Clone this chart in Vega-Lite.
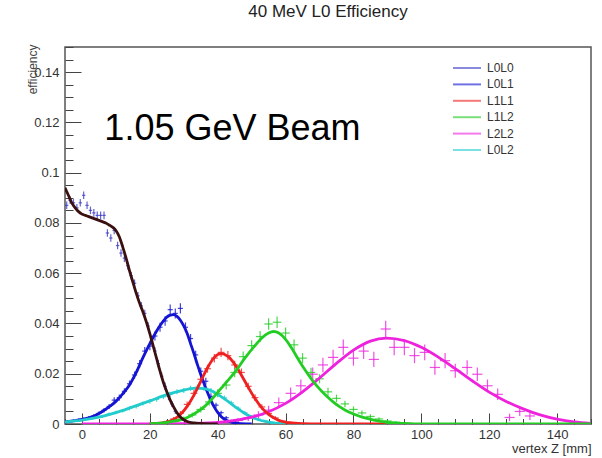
{
  "$schema": "https://vega.github.io/schema/vega-lite/v6.json",
  "width": 526,
  "height": 377,
  "autosize": "none",
  "padding": {"left": 65, "top": 47, "right": 11, "bottom": 34},
  "background": "white",
  "config": {
    "view": {"stroke": "#555555", "strokeWidth": 1.5},
    "font": "Liberation Sans",
    "legend": {
      "title": null,
      "orient": "none",
      "legendX": 387,
      "legendY": 13,
      "padding": 0,
      "labelFont": "Liberation Sans",
      "labelFontSize": 12,
      "labelColor": "#333333",
      "labelOffset": 5,
      "symbolType": "stroke",
      "symbolSize": 784,
      "symbolStrokeWidth": 2,
      "symbolOpacity": 0.6,
      "clipHeight": 16,
      "rowPadding": 0.4
    }
  },
  "title": {"text": "40 MeV L0 Efficiency", "fontSize": 17, "fontWeight": "normal", "font": "Liberation Sans", "color": "#222222", "offset": 20, "anchor": "middle"},
  "datasets": {
    "note": [
      {"note": "1.05 GeV Beam", "z": 6.6, "e": 0.113}
    ],
    "pts": [
      {"s": "L0L0", "z": -4.5, "e": 0.087, "dz": 0.5, "de": 0.0015},
      {"s": "L0L0", "z": -3.5, "e": 0.089, "dz": 0.5, "de": 0.0015},
      {"s": "L0L0", "z": -2.5, "e": 0.088, "dz": 0.5, "de": 0.0015},
      {"s": "L0L0", "z": -1.5, "e": 0.086, "dz": 0.5, "de": 0.0015},
      {"s": "L0L0", "z": -0.5, "e": 0.088, "dz": 0.5, "de": 0.0015},
      {"s": "L0L0", "z": 0.5, "e": 0.091, "dz": 0.5, "de": 0.0015},
      {"s": "L0L0", "z": 1.5, "e": 0.087, "dz": 0.5, "de": 0.0015},
      {"s": "L0L0", "z": 2.5, "e": 0.085, "dz": 0.5, "de": 0.0015},
      {"s": "L0L0", "z": 3.5, "e": 0.084, "dz": 0.5, "de": 0.0015},
      {"s": "L0L0", "z": 4.5, "e": 0.083, "dz": 0.5, "de": 0.0015},
      {"s": "L0L0", "z": 5.5, "e": 0.083, "dz": 0.5, "de": 0.0015},
      {"s": "L0L0", "z": 6.5, "e": 0.083, "dz": 0.5, "de": 0.0015},
      {"s": "L0L0", "z": 7.5, "e": 0.076, "dz": 0.5, "de": 0.0015},
      {"s": "L0L0", "z": 8.5, "e": 0.074, "dz": 0.5, "de": 0.0015},
      {"s": "L0L0", "z": 9.5, "e": 0.077, "dz": 0.5, "de": 0.0015},
      {"s": "L0L0", "z": 10.5, "e": 0.071, "dz": 0.5, "de": 0.0015},
      {"s": "L0L0", "z": 11.5, "e": 0.068, "dz": 0.5, "de": 0.0015},
      {"s": "L0L0", "z": 12.5, "e": 0.066, "dz": 0.5, "de": 0.0015},
      {"s": "L0L0", "z": 13.5, "e": 0.063, "dz": 0.5, "de": 0.0015},
      {"s": "L0L0", "z": 14.5, "e": 0.059, "dz": 0.5, "de": 0.0015},
      {"s": "L0L0", "z": 15.5, "e": 0.056, "dz": 0.5, "de": 0.0015},
      {"s": "L0L0", "z": 16.5, "e": 0.051, "dz": 0.5, "de": 0.0015},
      {"s": "L0L0", "z": 17.5, "e": 0.047, "dz": 0.5, "de": 0.0015},
      {"s": "L0L0", "z": 18.5, "e": 0.044, "dz": 0.5, "de": 0.0015},
      {"s": "L0L0", "z": 19.5, "e": 0.039, "dz": 0.5, "de": 0.0015},
      {"s": "L0L0", "z": 20.5, "e": 0.033, "dz": 0.5, "de": 0.0015},
      {"s": "L0L0", "z": 21.5, "e": 0.029, "dz": 0.5, "de": 0.0015},
      {"s": "L0L0", "z": 22.5, "e": 0.024, "dz": 0.5, "de": 0.0015},
      {"s": "L0L0", "z": 23.5, "e": 0.019, "dz": 0.5, "de": 0.0015},
      {"s": "L0L0", "z": 24.5, "e": 0.015, "dz": 0.5, "de": 0.0015},
      {"s": "L0L0", "z": 25.5, "e": 0.011, "dz": 0.5, "de": 0.0015},
      {"s": "L0L0", "z": 26.5, "e": 0.008, "dz": 0.5, "de": 0.0012},
      {"s": "L0L0", "z": 27.5, "e": 0.005, "dz": 0.5, "de": 0.0010},
      {"s": "L0L0", "z": 28.5, "e": 0.003, "dz": 0.5, "de": 0.0008},
      {"s": "L0L0", "z": 29.5, "e": 0.002, "dz": 0.5, "de": 0.0006},

      {"s": "L0L1", "z": -4, "e": 0.0010, "dz": 0.75, "de": 0.0005},
      {"s": "L0L1", "z": -2.5, "e": 0.0013, "dz": 0.75, "de": 0.0005},
      {"s": "L0L1", "z": -1, "e": 0.0016, "dz": 0.75, "de": 0.0006},
      {"s": "L0L1", "z": 0.5, "e": 0.0020, "dz": 0.75, "de": 0.0006},
      {"s": "L0L1", "z": 2, "e": 0.0025, "dz": 0.75, "de": 0.0007},
      {"s": "L0L1", "z": 3.5, "e": 0.0032, "dz": 0.75, "de": 0.0007},
      {"s": "L0L1", "z": 5, "e": 0.0042, "dz": 0.75, "de": 0.0008},
      {"s": "L0L1", "z": 6.5, "e": 0.0055, "dz": 0.75, "de": 0.0009},
      {"s": "L0L1", "z": 8, "e": 0.0070, "dz": 0.75, "de": 0.0010},
      {"s": "L0L1", "z": 9.5, "e": 0.0095, "dz": 0.75, "de": 0.0011},
      {"s": "L0L1", "z": 11, "e": 0.0105, "dz": 0.75, "de": 0.0012},
      {"s": "L0L1", "z": 12.5, "e": 0.0130, "dz": 0.75, "de": 0.0012},
      {"s": "L0L1", "z": 14, "e": 0.0160, "dz": 0.75, "de": 0.0013},
      {"s": "L0L1", "z": 15.5, "e": 0.0195, "dz": 0.75, "de": 0.0014},
      {"s": "L0L1", "z": 17, "e": 0.0240, "dz": 0.75, "de": 0.0015},
      {"s": "L0L1", "z": 18.5, "e": 0.0290, "dz": 0.75, "de": 0.0016},
      {"s": "L0L1", "z": 20, "e": 0.0310, "dz": 0.75, "de": 0.0017},
      {"s": "L0L1", "z": 21.5, "e": 0.0350, "dz": 0.75, "de": 0.0018},
      {"s": "L0L1", "z": 23, "e": 0.0385, "dz": 0.75, "de": 0.0018},
      {"s": "L0L1", "z": 24.5, "e": 0.0410, "dz": 0.75, "de": 0.0019},
      {"s": "L0L1", "z": 26, "e": 0.0455, "dz": 0.75, "de": 0.0020},
      {"s": "L0L1", "z": 27.5, "e": 0.0440, "dz": 0.75, "de": 0.0020},
      {"s": "L0L1", "z": 29, "e": 0.0460, "dz": 0.75, "de": 0.0020},
      {"s": "L0L1", "z": 30.5, "e": 0.0385, "dz": 0.75, "de": 0.0019},
      {"s": "L0L1", "z": 32, "e": 0.0340, "dz": 0.75, "de": 0.0018},
      {"s": "L0L1", "z": 33.5, "e": 0.0275, "dz": 0.75, "de": 0.0016},
      {"s": "L0L1", "z": 35, "e": 0.0210, "dz": 0.75, "de": 0.0015},
      {"s": "L0L1", "z": 36.5, "e": 0.0170, "dz": 0.75, "de": 0.0014},
      {"s": "L0L1", "z": 38, "e": 0.0110, "dz": 0.75, "de": 0.0012},
      {"s": "L0L1", "z": 39.5, "e": 0.0075, "dz": 0.75, "de": 0.0010},
      {"s": "L0L1", "z": 41, "e": 0.0045, "dz": 0.75, "de": 0.0008},
      {"s": "L0L1", "z": 42.5, "e": 0.0025, "dz": 0.75, "de": 0.0007},
      {"s": "L0L1", "z": 44, "e": 0.0012, "dz": 0.75, "de": 0.0005},
      {"s": "L0L1", "z": 45.5, "e": 0.0006, "dz": 0.75, "de": 0.0004},

      {"s": "L1L1", "z": 25, "e": 0.0010, "dz": 1, "de": 0.0006},
      {"s": "L1L1", "z": 27, "e": 0.0020, "dz": 1, "de": 0.0008},
      {"s": "L1L1", "z": 29, "e": 0.0042, "dz": 1, "de": 0.0010},
      {"s": "L1L1", "z": 31, "e": 0.0078, "dz": 1, "de": 0.0012},
      {"s": "L1L1", "z": 33, "e": 0.0122, "dz": 1, "de": 0.0013},
      {"s": "L1L1", "z": 35, "e": 0.0178, "dz": 1, "de": 0.0015},
      {"s": "L1L1", "z": 37, "e": 0.0220, "dz": 1, "de": 0.0016},
      {"s": "L1L1", "z": 39, "e": 0.0262, "dz": 1, "de": 0.0017},
      {"s": "L1L1", "z": 41, "e": 0.0285, "dz": 1, "de": 0.0018},
      {"s": "L1L1", "z": 43, "e": 0.0272, "dz": 1, "de": 0.0018},
      {"s": "L1L1", "z": 45, "e": 0.0235, "dz": 1, "de": 0.0017},
      {"s": "L1L1", "z": 47, "e": 0.0205, "dz": 1, "de": 0.0016},
      {"s": "L1L1", "z": 49, "e": 0.0150, "dz": 1, "de": 0.0014},
      {"s": "L1L1", "z": 51, "e": 0.0105, "dz": 1, "de": 0.0013},
      {"s": "L1L1", "z": 53, "e": 0.0068, "dz": 1, "de": 0.0011},
      {"s": "L1L1", "z": 55, "e": 0.0042, "dz": 1, "de": 0.0009},
      {"s": "L1L1", "z": 57, "e": 0.0024, "dz": 1, "de": 0.0007},
      {"s": "L1L1", "z": 59, "e": 0.0012, "dz": 1, "de": 0.0005},
      {"s": "L1L1", "z": 61, "e": 0.0006, "dz": 1, "de": 0.0004},

      {"s": "L0L2", "z": -3, "e": 0.0010, "dz": 0.75, "de": 0.0004},
      {"s": "L0L2", "z": 0, "e": 0.0015, "dz": 0.75, "de": 0.0004},
      {"s": "L0L2", "z": 3, "e": 0.0022, "dz": 0.75, "de": 0.0005},
      {"s": "L0L2", "z": 6, "e": 0.0030, "dz": 0.75, "de": 0.0006},
      {"s": "L0L2", "z": 8, "e": 0.0040, "dz": 0.75, "de": 0.0006},
      {"s": "L0L2", "z": 10, "e": 0.0046, "dz": 0.75, "de": 0.0007},
      {"s": "L0L2", "z": 12, "e": 0.0053, "dz": 0.75, "de": 0.0007},
      {"s": "L0L2", "z": 14, "e": 0.0062, "dz": 0.75, "de": 0.0008},
      {"s": "L0L2", "z": 16, "e": 0.0070, "dz": 0.75, "de": 0.0008},
      {"s": "L0L2", "z": 18, "e": 0.0082, "dz": 0.75, "de": 0.0008},
      {"s": "L0L2", "z": 20, "e": 0.0090, "dz": 0.75, "de": 0.0009},
      {"s": "L0L2", "z": 22, "e": 0.0098, "dz": 0.75, "de": 0.0009},
      {"s": "L0L2", "z": 24, "e": 0.0108, "dz": 0.75, "de": 0.0009},
      {"s": "L0L2", "z": 26, "e": 0.0118, "dz": 0.75, "de": 0.0010},
      {"s": "L0L2", "z": 28, "e": 0.0128, "dz": 0.75, "de": 0.0010},
      {"s": "L0L2", "z": 30, "e": 0.0133, "dz": 0.75, "de": 0.0010},
      {"s": "L0L2", "z": 32, "e": 0.0142, "dz": 0.75, "de": 0.0010},
      {"s": "L0L2", "z": 34, "e": 0.0147, "dz": 0.75, "de": 0.0010},
      {"s": "L0L2", "z": 36, "e": 0.0142, "dz": 0.75, "de": 0.0010},
      {"s": "L0L2", "z": 38, "e": 0.0133, "dz": 0.75, "de": 0.0010},
      {"s": "L0L2", "z": 40, "e": 0.0120, "dz": 0.75, "de": 0.0010},
      {"s": "L0L2", "z": 42, "e": 0.0104, "dz": 0.75, "de": 0.0009},
      {"s": "L0L2", "z": 44, "e": 0.0084, "dz": 0.75, "de": 0.0009},
      {"s": "L0L2", "z": 46, "e": 0.0063, "dz": 0.75, "de": 0.0008},
      {"s": "L0L2", "z": 48, "e": 0.0045, "dz": 0.75, "de": 0.0007},
      {"s": "L0L2", "z": 50, "e": 0.0030, "dz": 0.75, "de": 0.0006},
      {"s": "L0L2", "z": 52, "e": 0.0019, "dz": 0.75, "de": 0.0005},
      {"s": "L0L2", "z": 54, "e": 0.0011, "dz": 0.75, "de": 0.0004},
      {"s": "L0L2", "z": 56, "e": 0.0006, "dz": 0.75, "de": 0.0003},

      {"s": "L1L2", "z": 25, "e": 0.0008, "dz": 1.25, "de": 0.0005},
      {"s": "L1L2", "z": 27.5, "e": 0.0013, "dz": 1.25, "de": 0.0006},
      {"s": "L1L2", "z": 30, "e": 0.0022, "dz": 1.25, "de": 0.0008},
      {"s": "L1L2", "z": 32.5, "e": 0.0036, "dz": 1.25, "de": 0.0010},
      {"s": "L1L2", "z": 35, "e": 0.0058, "dz": 1.25, "de": 0.0012},
      {"s": "L1L2", "z": 37.5, "e": 0.0088, "dz": 1.25, "de": 0.0014},
      {"s": "L1L2", "z": 40, "e": 0.0122, "dz": 1.25, "de": 0.0016},
      {"s": "L1L2", "z": 42.5, "e": 0.0155, "dz": 1.25, "de": 0.0018},
      {"s": "L1L2", "z": 45, "e": 0.0205, "dz": 1.25, "de": 0.0019},
      {"s": "L1L2", "z": 47.5, "e": 0.0268, "dz": 1.25, "de": 0.0020},
      {"s": "L1L2", "z": 50, "e": 0.0312, "dz": 1.25, "de": 0.0021},
      {"s": "L1L2", "z": 52.5, "e": 0.0348, "dz": 1.25, "de": 0.0022},
      {"s": "L1L2", "z": 55, "e": 0.0398, "dz": 1.25, "de": 0.0023},
      {"s": "L1L2", "z": 57.5, "e": 0.0405, "dz": 1.25, "de": 0.0023},
      {"s": "L1L2", "z": 60, "e": 0.0362, "dz": 1.25, "de": 0.0022},
      {"s": "L1L2", "z": 62.5, "e": 0.0315, "dz": 1.25, "de": 0.0021},
      {"s": "L1L2", "z": 65, "e": 0.0262, "dz": 1.25, "de": 0.0020},
      {"s": "L1L2", "z": 67.5, "e": 0.0205, "dz": 1.25, "de": 0.0019},
      {"s": "L1L2", "z": 70, "e": 0.0180, "dz": 1.25, "de": 0.0018},
      {"s": "L1L2", "z": 72.5, "e": 0.0128, "dz": 1.25, "de": 0.0016},
      {"s": "L1L2", "z": 75, "e": 0.0102, "dz": 1.25, "de": 0.0015},
      {"s": "L1L2", "z": 77.5, "e": 0.0080, "dz": 1.25, "de": 0.0013},
      {"s": "L1L2", "z": 80, "e": 0.0058, "dz": 1.25, "de": 0.0012},
      {"s": "L1L2", "z": 82.5, "e": 0.0044, "dz": 1.25, "de": 0.0010},
      {"s": "L1L2", "z": 85, "e": 0.0030, "dz": 1.25, "de": 0.0009},
      {"s": "L1L2", "z": 87.5, "e": 0.0020, "dz": 1.25, "de": 0.0007},
      {"s": "L1L2", "z": 90, "e": 0.0012, "dz": 1.25, "de": 0.0006},
      {"s": "L1L2", "z": 92.5, "e": 0.0007, "dz": 1.25, "de": 0.0005},
      {"s": "L1L2", "z": 95, "e": 0.0004, "dz": 1.25, "de": 0.0004},

      {"s": "L2L2", "z": 43, "e": 0.0008, "dz": 1.5, "de": 0.0008},
      {"s": "L2L2", "z": 46, "e": 0.0014, "dz": 1.5, "de": 0.0010},
      {"s": "L2L2", "z": 49, "e": 0.0024, "dz": 1.5, "de": 0.0012},
      {"s": "L2L2", "z": 52, "e": 0.0036, "dz": 1.5, "de": 0.0015},
      {"s": "L2L2", "z": 55, "e": 0.0055, "dz": 1.5, "de": 0.0018},
      {"s": "L2L2", "z": 58, "e": 0.0085, "dz": 1.5, "de": 0.0020},
      {"s": "L2L2", "z": 61.5, "e": 0.0122, "dz": 1.5, "de": 0.0023},
      {"s": "L2L2", "z": 64.5, "e": 0.0152, "dz": 1.5, "de": 0.0025},
      {"s": "L2L2", "z": 68, "e": 0.0198, "dz": 1.5, "de": 0.0027},
      {"s": "L2L2", "z": 71, "e": 0.0235, "dz": 1.5, "de": 0.0029},
      {"s": "L2L2", "z": 74, "e": 0.0265, "dz": 1.5, "de": 0.0030},
      {"s": "L2L2", "z": 77, "e": 0.0305, "dz": 1.5, "de": 0.0031},
      {"s": "L2L2", "z": 80, "e": 0.0262, "dz": 1.5, "de": 0.0030},
      {"s": "L2L2", "z": 83, "e": 0.0290, "dz": 1.5, "de": 0.0031},
      {"s": "L2L2", "z": 86, "e": 0.0257, "dz": 1.5, "de": 0.0030},
      {"s": "L2L2", "z": 89.5, "e": 0.0378, "dz": 1.5, "de": 0.0033},
      {"s": "L2L2", "z": 92, "e": 0.0305, "dz": 1.5, "de": 0.0031},
      {"s": "L2L2", "z": 95, "e": 0.0305, "dz": 1.5, "de": 0.0031},
      {"s": "L2L2", "z": 98, "e": 0.0272, "dz": 1.5, "de": 0.0030},
      {"s": "L2L2", "z": 101, "e": 0.0285, "dz": 1.5, "de": 0.0031},
      {"s": "L2L2", "z": 104, "e": 0.0225, "dz": 1.5, "de": 0.0029},
      {"s": "L2L2", "z": 107, "e": 0.0252, "dz": 1.5, "de": 0.0030},
      {"s": "L2L2", "z": 110, "e": 0.0212, "dz": 1.5, "de": 0.0028},
      {"s": "L2L2", "z": 113.5, "e": 0.0225, "dz": 1.5, "de": 0.0029},
      {"s": "L2L2", "z": 116.5, "e": 0.0198, "dz": 1.5, "de": 0.0027},
      {"s": "L2L2", "z": 119.5, "e": 0.0152, "dz": 1.5, "de": 0.0025},
      {"s": "L2L2", "z": 122.5, "e": 0.0118, "dz": 1.5, "de": 0.0023},
      {"s": "L2L2", "z": 126, "e": 0.0026, "dz": 1.5, "de": 0.0015},
      {"s": "L2L2", "z": 129, "e": 0.0050, "dz": 1.5, "de": 0.0018},
      {"s": "L2L2", "z": 132, "e": 0.0032, "dz": 1.5, "de": 0.0016}
    ],
    "fit": [
      {"s": "L0L0", "z": -5, "e": 0.094}, {"s": "L0L0", "z": -4, "e": 0.091}, {"s": "L0L0", "z": -3, "e": 0.088},
      {"s": "L0L0", "z": -2, "e": 0.086}, {"s": "L0L0", "z": -1, "e": 0.0845}, {"s": "L0L0", "z": 0, "e": 0.0835},
      {"s": "L0L0", "z": 1, "e": 0.083}, {"s": "L0L0", "z": 2, "e": 0.0825}, {"s": "L0L0", "z": 3, "e": 0.082},
      {"s": "L0L0", "z": 4, "e": 0.0815}, {"s": "L0L0", "z": 5, "e": 0.081}, {"s": "L0L0", "z": 6, "e": 0.0805},
      {"s": "L0L0", "z": 7, "e": 0.080}, {"s": "L0L0", "z": 8, "e": 0.0792}, {"s": "L0L0", "z": 9, "e": 0.0783},
      {"s": "L0L0", "z": 10, "e": 0.077}, {"s": "L0L0", "z": 11, "e": 0.0745}, {"s": "L0L0", "z": 12, "e": 0.0705},
      {"s": "L0L0", "z": 13, "e": 0.066}, {"s": "L0L0", "z": 14, "e": 0.061}, {"s": "L0L0", "z": 15, "e": 0.0565},
      {"s": "L0L0", "z": 16, "e": 0.052}, {"s": "L0L0", "z": 17, "e": 0.048}, {"s": "L0L0", "z": 18, "e": 0.0445},
      {"s": "L0L0", "z": 19, "e": 0.0405}, {"s": "L0L0", "z": 20, "e": 0.036}, {"s": "L0L0", "z": 21, "e": 0.031},
      {"s": "L0L0", "z": 22, "e": 0.026}, {"s": "L0L0", "z": 23, "e": 0.021}, {"s": "L0L0", "z": 24, "e": 0.0165},
      {"s": "L0L0", "z": 25, "e": 0.0128}, {"s": "L0L0", "z": 26, "e": 0.0095}, {"s": "L0L0", "z": 27, "e": 0.0068},
      {"s": "L0L0", "z": 28, "e": 0.0045}, {"s": "L0L0", "z": 29, "e": 0.0028}, {"s": "L0L0", "z": 30, "e": 0.0017},
      {"s": "L0L0", "z": 31, "e": 0.001}, {"s": "L0L0", "z": 33, "e": 0.0004}, {"s": "L0L0", "z": 36, "e": 0.0001},
      {"s": "L0L0", "z": 40, "e": 0},

      {"s": "L0L1", "z": -5, "e": 0.0008}, {"s": "L0L1", "z": -2, "e": 0.0013}, {"s": "L0L1", "z": 0, "e": 0.0018},
      {"s": "L0L1", "z": 2, "e": 0.0025}, {"s": "L0L1", "z": 4, "e": 0.0035}, {"s": "L0L1", "z": 6, "e": 0.005},
      {"s": "L0L1", "z": 8, "e": 0.0068}, {"s": "L0L1", "z": 10, "e": 0.009}, {"s": "L0L1", "z": 12, "e": 0.012},
      {"s": "L0L1", "z": 14, "e": 0.0155}, {"s": "L0L1", "z": 16, "e": 0.0205}, {"s": "L0L1", "z": 18, "e": 0.0265},
      {"s": "L0L1", "z": 20, "e": 0.032}, {"s": "L0L1", "z": 22, "e": 0.037}, {"s": "L0L1", "z": 24, "e": 0.041},
      {"s": "L0L1", "z": 25, "e": 0.0425}, {"s": "L0L1", "z": 26, "e": 0.0433}, {"s": "L0L1", "z": 27, "e": 0.0435},
      {"s": "L0L1", "z": 28, "e": 0.0428}, {"s": "L0L1", "z": 29, "e": 0.0413}, {"s": "L0L1", "z": 30, "e": 0.039},
      {"s": "L0L1", "z": 31, "e": 0.036}, {"s": "L0L1", "z": 32, "e": 0.032}, {"s": "L0L1", "z": 33, "e": 0.028},
      {"s": "L0L1", "z": 34, "e": 0.0237}, {"s": "L0L1", "z": 35, "e": 0.0197}, {"s": "L0L1", "z": 36, "e": 0.016},
      {"s": "L0L1", "z": 37, "e": 0.0125}, {"s": "L0L1", "z": 38, "e": 0.0093}, {"s": "L0L1", "z": 39, "e": 0.0067},
      {"s": "L0L1", "z": 40, "e": 0.0046}, {"s": "L0L1", "z": 41, "e": 0.003}, {"s": "L0L1", "z": 42, "e": 0.0019},
      {"s": "L0L1", "z": 44, "e": 0.0007}, {"s": "L0L1", "z": 46, "e": 0.0002}, {"s": "L0L1", "z": 50, "e": 0},

      {"s": "L0L2", "z": -5, "e": 0.0008}, {"s": "L0L2", "z": 0, "e": 0.0015}, {"s": "L0L2", "z": 5, "e": 0.0027},
      {"s": "L0L2", "z": 10, "e": 0.0045}, {"s": "L0L2", "z": 15, "e": 0.0068}, {"s": "L0L2", "z": 20, "e": 0.0092},
      {"s": "L0L2", "z": 25, "e": 0.0117}, {"s": "L0L2", "z": 30, "e": 0.0135}, {"s": "L0L2", "z": 33, "e": 0.0142},
      {"s": "L0L2", "z": 35, "e": 0.0142}, {"s": "L0L2", "z": 38, "e": 0.0133}, {"s": "L0L2", "z": 40, "e": 0.0118},
      {"s": "L0L2", "z": 42, "e": 0.0100}, {"s": "L0L2", "z": 44, "e": 0.0080}, {"s": "L0L2", "z": 46, "e": 0.0060},
      {"s": "L0L2", "z": 48, "e": 0.0042}, {"s": "L0L2", "z": 50, "e": 0.0028}, {"s": "L0L2", "z": 52, "e": 0.0017},
      {"s": "L0L2", "z": 54, "e": 0.0010}, {"s": "L0L2", "z": 56, "e": 0.0005}, {"s": "L0L2", "z": 58, "e": 0.0002},
      {"s": "L0L2", "z": 60, "e": 0.0001},

      {"s": "L2L2", "z": 0, "e": 0}, {"s": "L2L2", "z": 20, "e": 0}, {"s": "L2L2", "z": 30, "e": 0.0001},
      {"s": "L2L2", "z": 35, "e": 0.0003}, {"s": "L2L2", "z": 40, "e": 0.0006}, {"s": "L2L2", "z": 45, "e": 0.0014},
      {"s": "L2L2", "z": 50, "e": 0.0027}, {"s": "L2L2", "z": 55, "e": 0.0049}, {"s": "L2L2", "z": 60, "e": 0.0082},
      {"s": "L2L2", "z": 65, "e": 0.0128}, {"s": "L2L2", "z": 70, "e": 0.0183}, {"s": "L2L2", "z": 75, "e": 0.0241},
      {"s": "L2L2", "z": 80, "e": 0.0294}, {"s": "L2L2", "z": 85, "e": 0.0330}, {"s": "L2L2", "z": 89.7, "e": 0.0342},
      {"s": "L2L2", "z": 95, "e": 0.0332}, {"s": "L2L2", "z": 100, "e": 0.0305}, {"s": "L2L2", "z": 105, "e": 0.0266},
      {"s": "L2L2", "z": 110, "e": 0.0220}, {"s": "L2L2", "z": 115, "e": 0.0172}, {"s": "L2L2", "z": 120, "e": 0.0127},
      {"s": "L2L2", "z": 125, "e": 0.0090}, {"s": "L2L2", "z": 130, "e": 0.0060}, {"s": "L2L2", "z": 135, "e": 0.0036},
      {"s": "L2L2", "z": 140, "e": 0.0019}, {"s": "L2L2", "z": 145, "e": 0.0008}, {"s": "L2L2", "z": 150, "e": 0.0002},

      {"s": "L1L1", "z": 20, "e": 0.0001}, {"s": "L1L1", "z": 23, "e": 0.0003}, {"s": "L1L1", "z": 25, "e": 0.0008},
      {"s": "L1L1", "z": 27, "e": 0.0018}, {"s": "L1L1", "z": 29, "e": 0.0038}, {"s": "L1L1", "z": 31, "e": 0.0070},
      {"s": "L1L1", "z": 33, "e": 0.0115}, {"s": "L1L1", "z": 35, "e": 0.0170}, {"s": "L1L1", "z": 37, "e": 0.0224},
      {"s": "L1L1", "z": 39, "e": 0.0265}, {"s": "L1L1", "z": 41, "e": 0.0280}, {"s": "L1L1", "z": 43, "e": 0.0269},
      {"s": "L1L1", "z": 45, "e": 0.0238}, {"s": "L1L1", "z": 47, "e": 0.0194}, {"s": "L1L1", "z": 49, "e": 0.0146},
      {"s": "L1L1", "z": 51, "e": 0.0101}, {"s": "L1L1", "z": 53, "e": 0.0064}, {"s": "L1L1", "z": 55, "e": 0.0038},
      {"s": "L1L1", "z": 57, "e": 0.0021}, {"s": "L1L1", "z": 59, "e": 0.0010}, {"s": "L1L1", "z": 61, "e": 0.0005},
      {"s": "L1L1", "z": 65, "e": 0.0001}, {"s": "L1L1", "z": 70, "e": 0}, {"s": "L1L1", "z": 95, "e": 0},

      {"s": "L1L2", "z": 20, "e": 0.0001}, {"s": "L1L2", "z": 24, "e": 0.0004}, {"s": "L1L2", "z": 27, "e": 0.0011},
      {"s": "L1L2", "z": 30, "e": 0.0020}, {"s": "L1L2", "z": 33, "e": 0.0040}, {"s": "L1L2", "z": 36, "e": 0.0068},
      {"s": "L1L2", "z": 39, "e": 0.0110}, {"s": "L1L2", "z": 42, "e": 0.0158}, {"s": "L1L2", "z": 45, "e": 0.0205},
      {"s": "L1L2", "z": 48, "e": 0.0262}, {"s": "L1L2", "z": 51, "e": 0.0312}, {"s": "L1L2", "z": 53, "e": 0.0342},
      {"s": "L1L2", "z": 55, "e": 0.0362}, {"s": "L1L2", "z": 56.5, "e": 0.0368}, {"s": "L1L2", "z": 58, "e": 0.0362},
      {"s": "L1L2", "z": 60, "e": 0.0337}, {"s": "L1L2", "z": 62, "e": 0.0297}, {"s": "L1L2", "z": 64, "e": 0.0252},
      {"s": "L1L2", "z": 66, "e": 0.0210}, {"s": "L1L2", "z": 68, "e": 0.0172}, {"s": "L1L2", "z": 70, "e": 0.0140},
      {"s": "L1L2", "z": 72, "e": 0.0112}, {"s": "L1L2", "z": 74, "e": 0.0088}, {"s": "L1L2", "z": 76, "e": 0.0068},
      {"s": "L1L2", "z": 78, "e": 0.0052}, {"s": "L1L2", "z": 80, "e": 0.0040}, {"s": "L1L2", "z": 82, "e": 0.0030},
      {"s": "L1L2", "z": 84, "e": 0.0022}, {"s": "L1L2", "z": 86, "e": 0.0015}, {"s": "L1L2", "z": 88, "e": 0.0010},
      {"s": "L1L2", "z": 90, "e": 0.0006}, {"s": "L1L2", "z": 93, "e": 0.0003}, {"s": "L1L2", "z": 97, "e": 0.0001},
      {"s": "L1L2", "z": 100, "e": 0}, {"s": "L1L2", "z": 150, "e": 0}
    ]
  },
  "encoding": {
    "x": {
      "field": "z", "type": "quantitative", "title": "vertex Z [mm]",
      "scale": {"domain": [-5, 150], "nice": false, "zero": false},
      "axis": {
        "title": "vertex Z [mm]",
        "titleAnchor": "end",
        "titleFontSize": 13, "titleFontWeight": "normal", "titleColor": "#333333",
        "titleBaseline": "middle", "titleY": 24,
        "values": [-5, 0, 5, 10, 15, 20, 25, 30, 35, 40, 45, 50, 55, 60, 65, 70, 75, 80, 85, 90, 95, 100, 105, 110, 115, 120, 125, 130, 135, 140, 145, 150],
        "labelExpr": "datum.value % 20 == 0 ? datum.label : ''",
        "labelFontSize": 13, "labelColor": "#333333", "labelPadding": 15,
        "labelFlush": false, "labelOverlap": false,
        "domain": false, "grid": false,
        "tickColor": "#444444", "tickWidth": 1,
        "tickSize": {"condition": {"test": "datum.value % 20 == 0", "value": -11}, "value": -5.5}
      }
    },
    "y": {
      "field": "e", "type": "quantitative", "title": "efficiency",
      "scale": {"domain": [0, 0.15], "nice": false},
      "axis": {
        "title": "efficiency",
        "titleFontSize": 12, "titleFontWeight": "normal", "titleColor": "#444444",
        "titleAngle": -90, "titleAlign": "right", "titleBaseline": "middle",
        "titleX": -33, "titleY": -3,
        "values": [0, 0.005, 0.01, 0.015, 0.02, 0.025, 0.03, 0.035, 0.04, 0.045, 0.05, 0.055, 0.06, 0.065, 0.07, 0.075, 0.08, 0.085, 0.09, 0.095, 0.1, 0.105, 0.11, 0.115, 0.12, 0.125, 0.13, 0.135, 0.14, 0.145, 0.15],
        "labelExpr": "abs(datum.value * 50 - round(datum.value * 50)) < 0.001 && datum.value < 0.145 ? format(datum.value, '.2~f') : ''",
        "labelFontSize": 13, "labelColor": "#333333", "labelPadding": 22,
        "labelFlush": false, "labelOverlap": false,
        "domain": false, "grid": false,
        "tickColor": "#444444", "tickWidth": 1,
        "tickSize": {"condition": {"test": "abs(datum.value * 50 - round(datum.value * 50)) < 0.001", "value": -16}, "value": -8}
      }
    }
  },
  "layer": [
    {
      "data": {"name": "pts"},
      "mark": {"type": "errorbar", "thickness": 1.2, "opacity": 0.8},
      "encoding": {
        "yError": {"field": "de"},
        "color": {
          "field": "s", "type": "nominal",
          "scale": {"domain": ["L0L0", "L0L1", "L1L1", "L1L2", "L2L2", "L0L2"], "range": ["#3c3cc8", "#1414d2", "#ee2020", "#22cc22", "#ee22dd", "#22cccc"]}
        }
      }
    },
    {
      "data": {"name": "pts"},
      "mark": {"type": "errorbar", "thickness": 1.2, "opacity": 0.8},
      "encoding": {
        "xError": {"field": "dz"},
        "color": {
          "field": "s", "type": "nominal",
          "scale": {"domain": ["L0L0", "L0L1", "L1L1", "L1L2", "L2L2", "L0L2"], "range": ["#3c3cc8", "#1414d2", "#ee2020", "#22cc22", "#ee22dd", "#22cccc"]}
        }
      }
    },
    {
      "data": {"name": "fit"},
      "transform": [{"filter": "datum.s != 'L0L0'"}],
      "mark": {"type": "line", "strokeWidth": 2.8, "interpolate": "monotone", "clip": true},
      "encoding": {
        "order": {"field": "z", "type": "quantitative"},
        "color": {
          "field": "s", "type": "nominal",
          "scale": {"domain": ["L0L0", "L0L1", "L1L1", "L1L2", "L2L2", "L0L2"], "range": ["#3c3cc8", "#1414d2", "#ee2020", "#22cc22", "#ee22dd", "#22cccc"]}
        }
      }
    },
    {
      "data": {"name": "fit"},
      "transform": [{"filter": "datum.s == 'L0L0'"}],
      "mark": {"type": "line", "strokeWidth": 2.8, "interpolate": "monotone", "color": "#3a1010", "clip": true},
      "encoding": {"order": {"field": "z", "type": "quantitative"}}
    },
    {
      "data": {"name": "note"},
      "mark": {"type": "text", "font": "Liberation Sans", "fontSize": 36, "align": "left", "baseline": "alphabetic", "color": "#000000"},
      "encoding": {"text": {"field": "note", "type": "nominal"}}
    }
  ]
}
